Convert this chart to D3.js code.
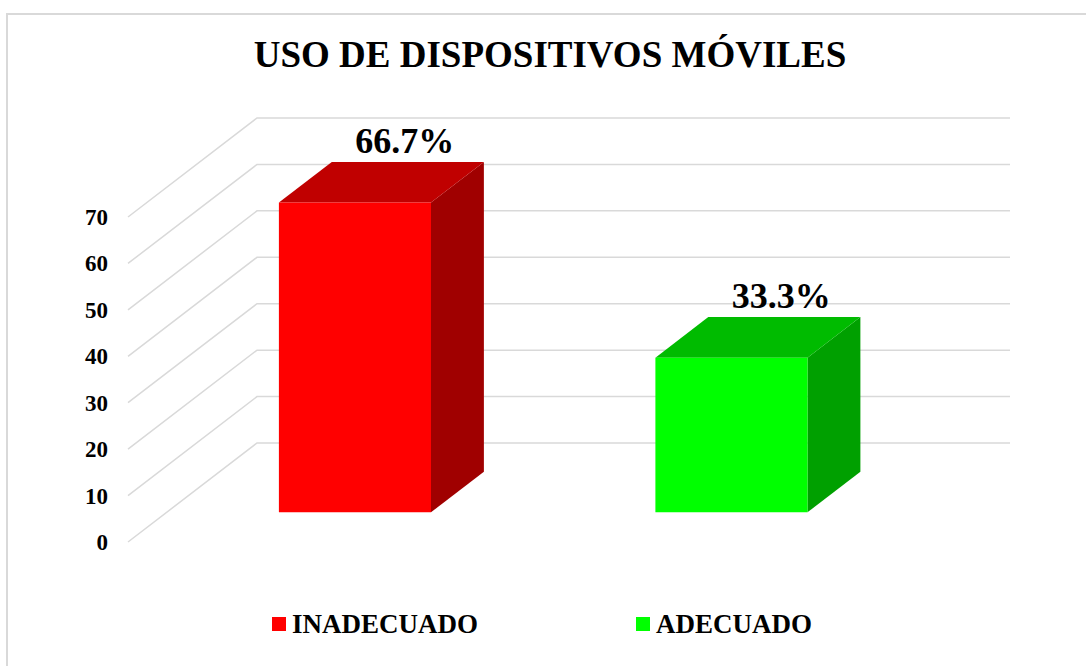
<!DOCTYPE html>
<html>
<head>
<meta charset="utf-8">
<script src="https://cdn.jsdelivr.net/npm/d3@7"></script>
<style>
  body { margin: 0; background: #fff; }
  svg { display: block; }
</style>
</head>
<body>
<div id="chart"></div>
<script>
// Chart data
const categories = ["INADECUADO", "ADECUADO"];
const values = [66.7, 33.3];
const valueLabels = ["66.7%", "33.3%"];
const yTicks = [0, 10, 20, 30, 40, 50, 60, 70];
const chartTitle = "USO DE DISPOSITIVOS MÓVILES";

// Face colors per bar: front, top, side
const frontColors = ["#ff0000", "#00ff00"];
const topColors = ["#c00000", "#00bb00"];
const sideColors = ["#a00000", "#00a000"];

const width = 1086;
const height = 666;
const FONT = "'Liberation Serif', 'Times New Roman', serif";

// 3D projection: offset of the back wall relative to the front plane
const DEPTH = { dx: 129, dy: -99 };
const BAR_FRONT = 0.30;   // fraction of depth where bar front sits
const BAR_BACK = 0.71;    // fraction of depth where bar back sits
const BAR_RATIO = 0.404;  // bar width relative to band

const svg = d3.select("#chart").append("svg")
  .attr("width", width)
  .attr("height", height);

svg.append("rect")
  .attr("width", width).attr("height", height)
  .attr("fill", "#fff");

// chart border (runs off the right/bottom edges)
svg.append("rect")
  .attr("x", 7).attr("y", 14)
  .attr("width", width + 20).attr("height", height + 20)
  .attr("fill", "none")
  .attr("stroke", "#d9d9d9")
  .attr("stroke-width", 2);

// scales on the front plane
const x = d3.scaleBand().domain(categories).range([128, 881]).padding(0);
const y = d3.scaleLinear().domain([0, 70]).range([542, 217]);

// gridlines: diagonal on the left wall, then horizontal on the back wall
const grid = svg.append("g")
  .attr("fill", "none")
  .attr("stroke", "#d9d9d9")
  .attr("stroke-width", 1.5);
grid.selectAll("path")
  .data(yTicks)
  .join("path")
  .attr("d", d => {
    const x0 = x.range()[0], y0 = y(d);
    const bx = x0 + DEPTH.dx, by = y0 + DEPTH.dy;
    return `M${x0},${y0}L${bx},${by}L${x.range()[1] + DEPTH.dx},${by}`;
  });

// y tick labels
svg.append("g")
  .selectAll("text")
  .data(yTicks)
  .join("text")
  .attr("x", 108)
  .attr("y", d => y(d) + 8)
  .attr("text-anchor", "end")
  .attr("font-family", FONT)
  .attr("font-weight", "bold")
  .attr("font-size", 23)
  .text(d => d);

// bars as 3D boxes
const bars = svg.append("g")
  .selectAll("g")
  .data(values)
  .join("g");

function corner(i, v, side, depth) {
  const bw = x.bandwidth() * BAR_RATIO;
  const cx = x(categories[i]) + x.bandwidth() / 2;
  const px = (side === "l" ? cx - bw / 2 : cx + bw / 2) + DEPTH.dx * depth;
  const py = y(v) + DEPTH.dy * depth;
  return [px, py];
}
const poly = pts => "M" + pts.map(p => p.join(",")).join("L") + "Z";

bars.append("path") // side
  .attr("fill", (d, i) => sideColors[i])
  .attr("d", (d, i) => poly([
    corner(i, 0, "r", BAR_FRONT), corner(i, 0, "r", BAR_BACK),
    corner(i, d, "r", BAR_BACK), corner(i, d, "r", BAR_FRONT)
  ]));
bars.append("path") // top
  .attr("fill", (d, i) => topColors[i])
  .attr("d", (d, i) => poly([
    corner(i, d, "l", BAR_FRONT), corner(i, d, "l", BAR_BACK),
    corner(i, d, "r", BAR_BACK), corner(i, d, "r", BAR_FRONT)
  ]));
bars.append("path") // front
  .attr("fill", (d, i) => frontColors[i])
  .attr("d", (d, i) => poly([
    corner(i, 0, "l", BAR_FRONT), corner(i, d, "l", BAR_FRONT),
    corner(i, d, "r", BAR_FRONT), corner(i, 0, "r", BAR_FRONT)
  ]));

// value labels above each bar
svg.append("g")
  .selectAll("text")
  .data(values)
  .join("text")
  .attr("x", (d, i) => (corner(i, d, "l", BAR_BACK)[0] + corner(i, d, "r", BAR_BACK)[0]) / 2 - 3)
  .attr("y", (d, i) => corner(i, d, "l", BAR_BACK)[1] - 9)
  .attr("text-anchor", "middle")
  .attr("font-family", FONT)
  .attr("font-weight", "bold")
  .attr("font-size", 36)
  .text((d, i) => valueLabels[i]);

// title
svg.append("text")
  .attr("x", 550)
  .attr("y", 67)
  .attr("text-anchor", "middle")
  .attr("font-family", FONT)
  .attr("font-weight", "bold")
  .attr("font-size", 37)
  .text(chartTitle);

// legend
const legendX = [272, 636];
const legend = svg.append("g")
  .selectAll("g")
  .data(categories)
  .join("g")
  .attr("transform", (d, i) => `translate(${legendX[i]},617)`);
legend.append("rect")
  .attr("width", 14).attr("height", 14)
  .attr("fill", (d, i) => frontColors[i]);
legend.append("text")
  .attr("x", 20)
  .attr("y", 16)
  .attr("font-family", FONT)
  .attr("font-weight", "bold")
  .attr("font-size", 27)
  .text(d => d);
</script>
</body>
</html>
